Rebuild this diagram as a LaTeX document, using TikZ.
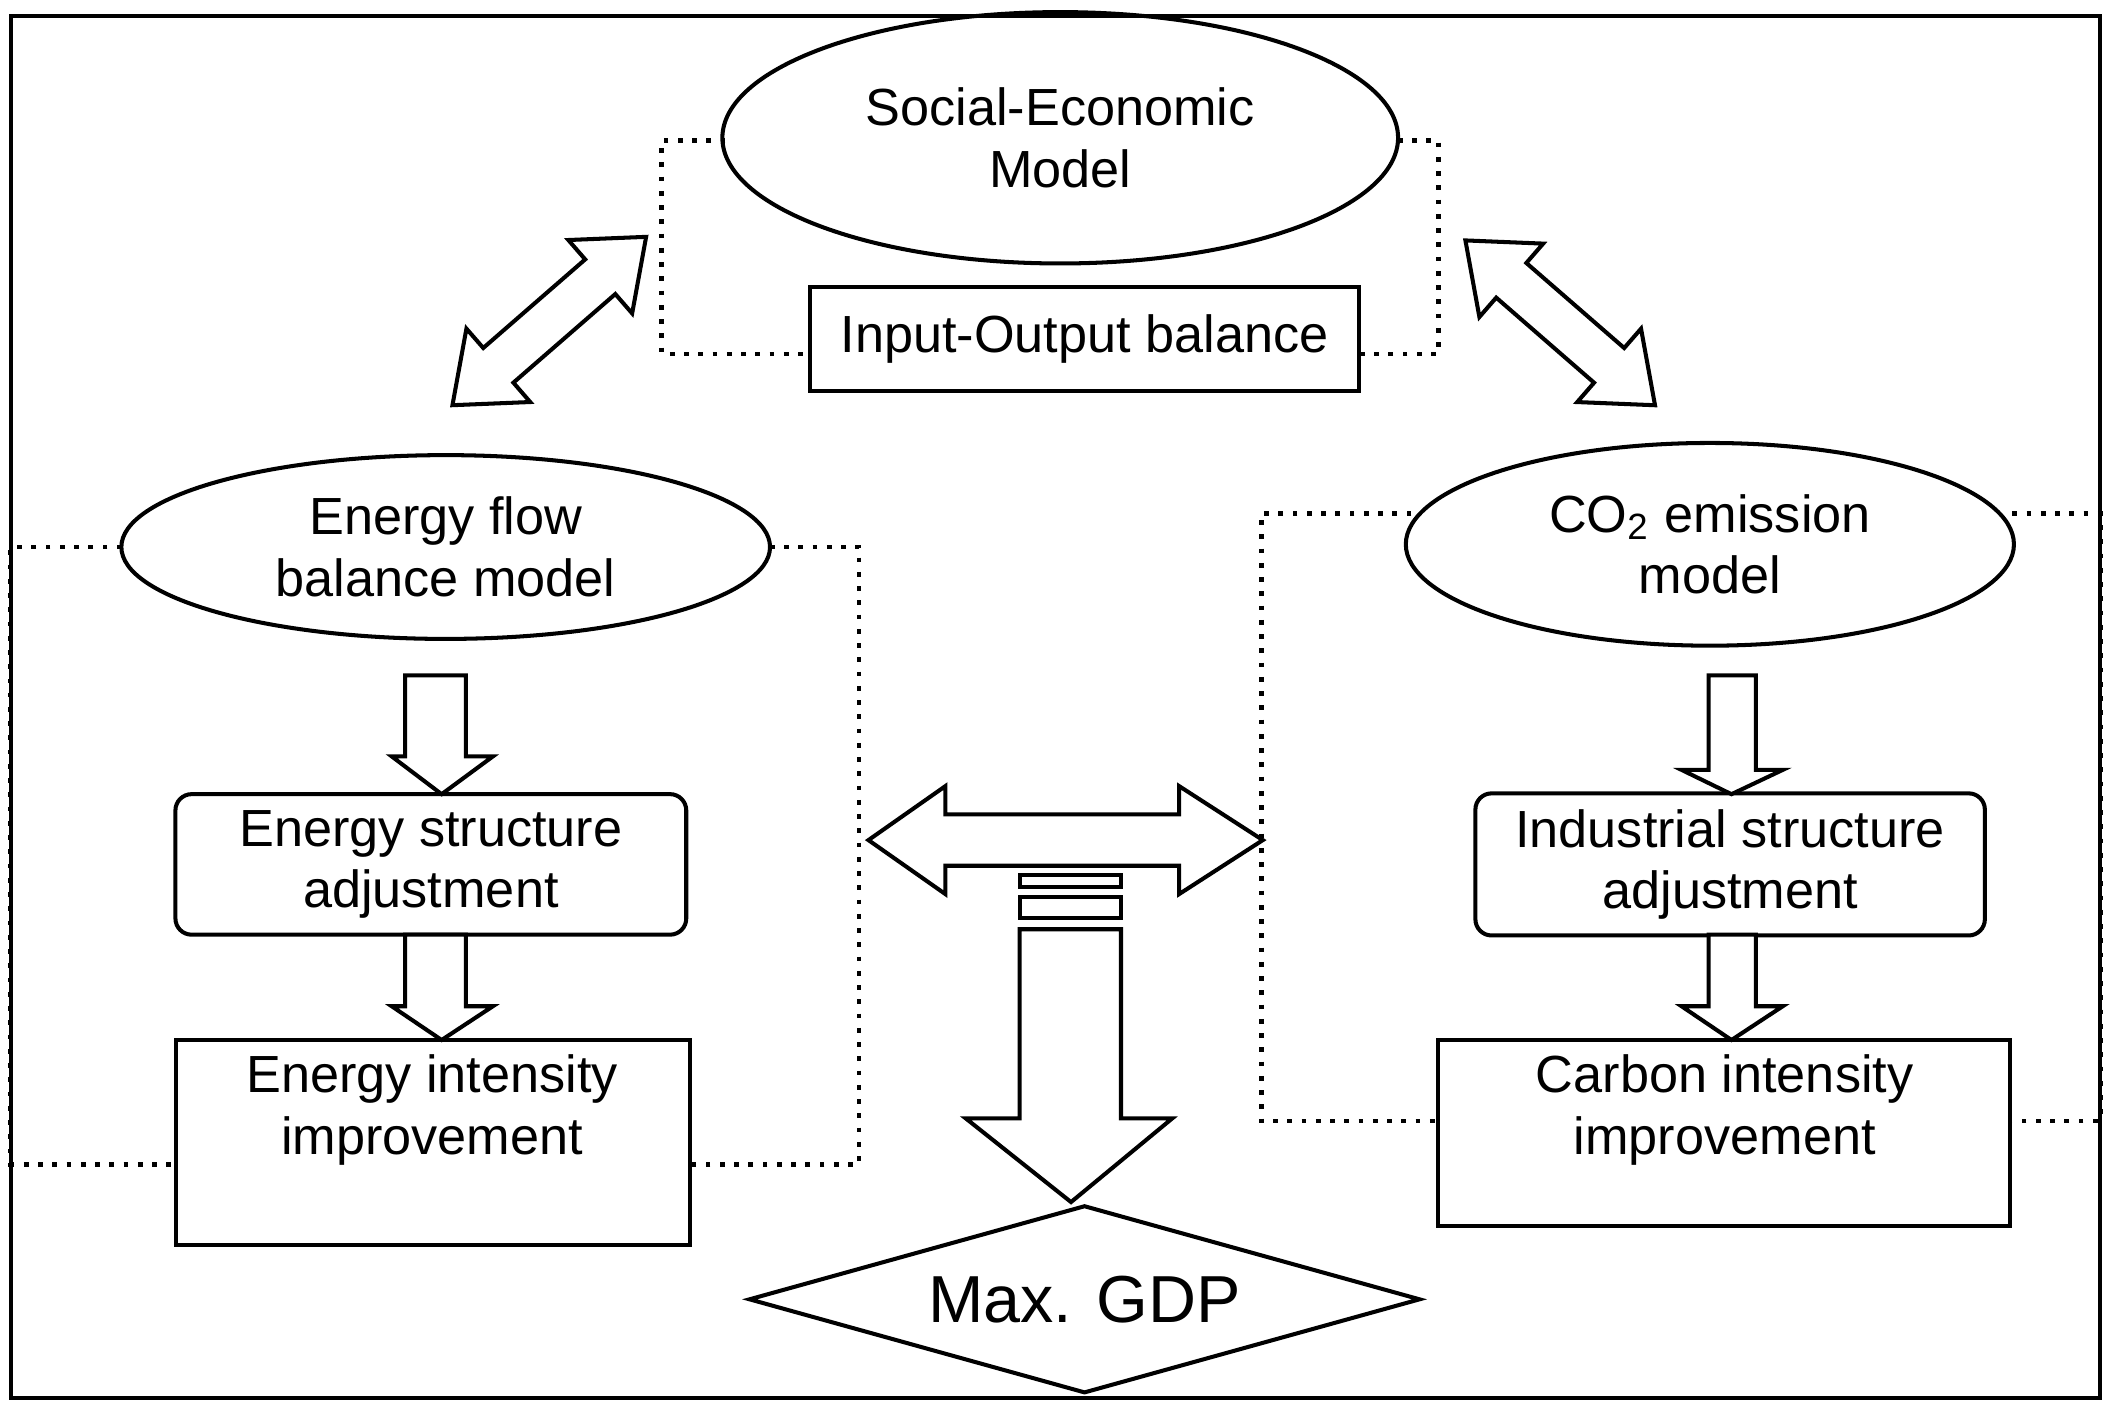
\documentclass[tikz,border=0pt]{standalone}
\usepackage{fontspec}
\setmainfont{Liberation Sans}
\usetikzlibrary{shapes.geometric}
\begin{document}
\begin{tikzpicture}[x=0.01cm,y=-0.01cm,line width=0.85pt,
  txt/.style={font=\fontsize{11}{13}\selectfont,align=center},
  ell/.style={draw,ellipse,txt,inner sep=0},
  dot/.style={dotted,line width=1pt},
  fat/.style={draw,fill=white,line width=0.85pt}]
\useasboundingbox (0,0) rectangle (1563,1041);
\draw (8,12) rectangle (1555,1035);
\newcommand\dblarr[4]{% shift x, shift y, angle, length
 \begin{scope}[shift={(#1,#2)},rotate=#3]
 \path[fat] (0,0)--(45,-36)--(45,-17)--({#4-45},-17)--({#4-45},-36)--(#4,0)--({#4-45},36)--({#4-45},17)--(45,17)--(45,36)--cycle;
 \end{scope}}
% dotted frames
\draw[dot] (537,104)--(490,104)--(490,262)--(600,262);
\draw[dot] (1035,104)--(1065,104)--(1065,262)--(1006,262);
\draw[dot] (90,405)--(8,405)--(8,862)--(130,862);
\draw[dot] (570,405)--(636,405)--(636,862)--(512,862);
\draw[dot] (1045,380)--(934,380)--(934,830)--(1065,830);
\draw[dot] (1490,380)--(1555,380)--(1555,830)--(1488,830);
% nodes
\node[ell,minimum width=5cm,minimum height=1.86cm] (se) at (785,102) {Social-Economic\\Model};
\node[draw,fill=white,txt,minimum width=4.06cm,minimum height=0.77cm] (io) at (803,251) {Input-Output balance};
\node[ell,minimum width=4.8cm,minimum height=1.36cm] (ef) at (330,405) {Energy flow\\balance model};
\node[ell,minimum width=4.5cm,minimum height=1.5cm] (co) at (1266,403) {CO\textsubscript{2} emission\\model};
\node[draw,rounded corners=0.12cm,txt,minimum width=3.78cm,minimum height=1.04cm] (es) at (319,640) {Energy structure\\adjustment};
\draw (130,770) rectangle (511,922);
\node[txt] (ei) at (320,822) {Energy intensity\\improvement};
\node[draw,rounded corners=0.12cm,txt,minimum width=3.77cm,minimum height=1.04cm] (is) at (1281,640) {Industrial structure\\adjustment};
\draw (1065,770) rectangle (1488,908);
\node[txt] (ci) at (1277,822) {Carbon intensity\\improvement};
\node[draw,diamond,aspect=3.6,minimum width=4.97cm,minimum height=1.39cm,inner sep=0,font=\fontsize{14}{16}\selectfont] (gdp) at (803,962) {Max. GDP};
% arrows
\dblarr{335}{300}{41}{190}
\dblarr{1085}{178}{-41}{186}
\path[fat] (643,622)--(700,582)--(700,603)--(873,603)--(873,582)--(935,622)--(873,662)--(873,641)--(700,641)--(700,662)--cycle;
\path[fat] (300,500)--(300,560)--(290,560)--(327,588)--(365,560)--(345,560)--(345,500)--cycle;
\path[fat] (300,692)--(300,745)--(290,745)--(327,770)--(365,745)--(345,745)--(345,692)--cycle;
\path[fat] (1265,500)--(1265,570)--(1245,570)--(1282,588)--(1320,570)--(1300,570)--(1300,500)--cycle;
\path[fat] (1265,692)--(1265,745)--(1245,745)--(1282,770)--(1320,745)--(1300,745)--(1300,692)--cycle;
\draw (755,648) rectangle (830,657);
\draw (755,664) rectangle (830,680);
\path[fat] (755,688)--(755,828)--(715,828)--(793,890)--(868,828)--(830,828)--(830,688)--cycle;
\end{tikzpicture}
\end{document}
